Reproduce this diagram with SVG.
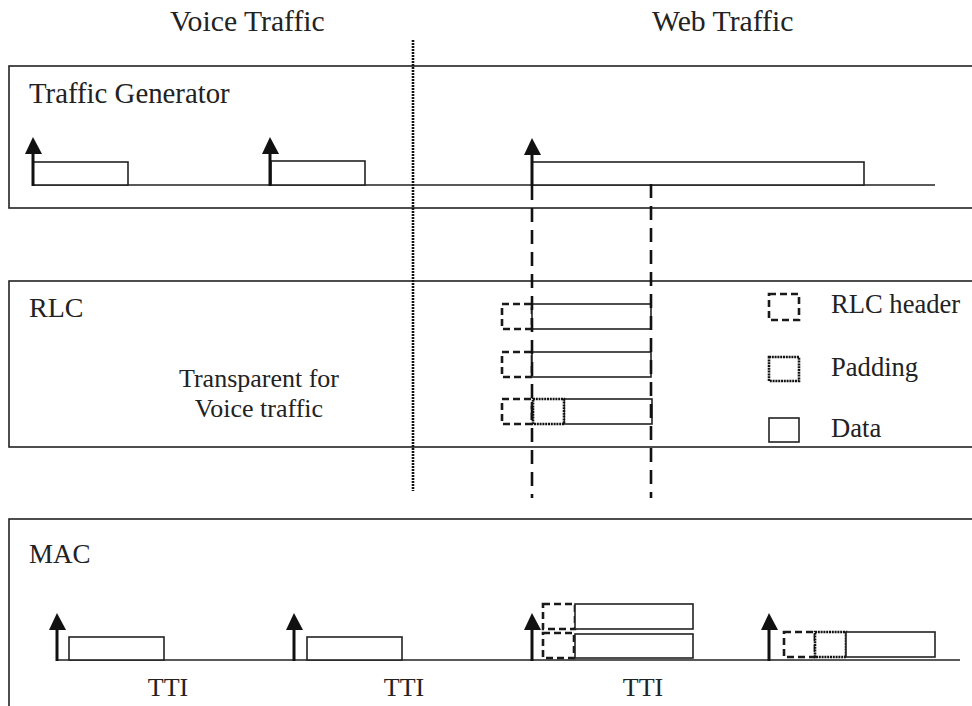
<svg xmlns="http://www.w3.org/2000/svg" width="972" height="706" viewBox="0 0 972 706">
<defs>
<style>
text{font-family:"Liberation Serif","Times New Roman",serif;font-size:26px;fill:#222}
.big{font-size:29.7px}
.mid{font-size:28.8px}
.box{fill:none;stroke:#222;stroke-width:1.6}
.data{fill:#fff;stroke:#222;stroke-width:1.6}
.hdr{fill:#fff;stroke:#1a1a1a;stroke-width:2.6;stroke-dasharray:7,4}
.pad{fill:#fff;stroke:#111;stroke-width:2.6;stroke-dasharray:2,0.8}
.base{stroke:#222;stroke-width:1.6;fill:none}
.shaft{stroke:#111;stroke-width:3;fill:none}
.dash{stroke:#111;stroke-width:2.6;stroke-dasharray:14,8;fill:none}
.dot{stroke:#111;stroke-width:2.6;stroke-dasharray:2,1}
</style>
</defs>
<g id="labels">
<text class="big" x="170" y="31">Voice Traffic</text>
<text class="big" x="652" y="31">Web Traffic</text>
</g>
<g id="traffic-generator">
<rect class="box" x="9" y="66" width="980" height="142"/>
<text class="mid" x="29" y="103">Traffic Generator</text>
<line class="base" x1="33" y1="185" x2="935" y2="185"/>
<rect class="data" x="33" y="162" width="95" height="23"/>
<rect class="data" x="271" y="161" width="94" height="24"/>
<rect class="data" x="532" y="162" width="332" height="23"/>
<path class="shaft" d="M33,186 V153"/>
<path d="M25,154 L33,137 L42,154 Z" fill="#111"/>
<path class="shaft" d="M270,186 V153"/>
<path d="M262,154 L270,137 L279,154 Z" fill="#111"/>
<path class="shaft" d="M532,186 V153"/>
<path d="M524,155 L532,138 L541,155 Z" fill="#111"/>
</g>
<g id="rlc">
<rect class="box" x="9" y="281" width="980" height="166"/>
<text x="29" y="317" style="font-size:28px">RLC</text>
<text x="259" y="387" text-anchor="middle">Transparent for</text>
<text x="259" y="417" text-anchor="middle">Voice traffic</text>
<rect class="hdr" x="502" y="304" width="30" height="25"/>
<rect class="data" x="532" y="304" width="119" height="25"/>
<rect class="hdr" x="502" y="352" width="30" height="25"/>
<rect class="data" x="532" y="352" width="119" height="25"/>
<rect class="hdr" x="502" y="399" width="30" height="25"/>
<rect class="data" x="564" y="399" width="88" height="25"/>
<rect class="pad" x="533" y="399" width="31" height="25"/>
</g>
<g id="legend">
<rect class="hdr" x="769" y="294" width="30" height="26"/>
<text x="831" y="313" style="font-size:26.6px">RLC header</text>
<rect class="pad" x="769" y="357" width="30" height="24"/>
<text x="831" y="376" style="font-size:26.6px">Padding</text>
<rect class="data" x="769" y="418" width="30" height="24"/>
<text x="831" y="437" style="font-size:26.6px">Data</text>
</g>
<g id="mac">
<rect class="box" x="9" y="519" width="980" height="220"/>
<text x="29" y="563" style="font-size:27px">MAC</text>
<line class="base" x1="57" y1="660" x2="960" y2="660"/>
<rect class="data" x="69" y="637" width="95" height="23"/>
<rect class="data" x="307" y="637" width="95" height="23"/>
<rect class="hdr" x="543" y="604" width="32" height="25"/>
<rect class="data" x="575" y="604" width="118" height="25"/>
<rect class="hdr" x="543" y="633" width="31" height="25"/>
<rect class="data" x="575" y="634" width="118" height="24"/>
<rect class="hdr" x="784" y="632" width="31" height="25"/>
<rect class="pad" x="815" y="632" width="31" height="25"/>
<rect class="data" x="846" y="632" width="89" height="25"/>
<path class="shaft" d="M57,661 V628"/>
<path d="M49,630 L57,613 L66,630 Z" fill="#111"/>
<path class="shaft" d="M294,661 V628"/>
<path d="M286,630 L294,613 L303,630 Z" fill="#111"/>
<path class="shaft" d="M532,661 V628"/>
<path d="M524,630 L532,613 L541,630 Z" fill="#111"/>
<path class="shaft" d="M769,661 V628"/>
<path d="M761,630 L769,613 L778,630 Z" fill="#111"/>
<text x="168" y="696" text-anchor="middle">TTI</text>
<text x="404" y="696" text-anchor="middle">TTI</text>
<text x="643" y="696" text-anchor="middle">TTI</text>
</g>
<g id="connectors">
<line class="dot" x1="413" y1="40" x2="413" y2="491"/>
<line class="dash" x1="532" y1="186" x2="532" y2="498"/>
<line class="dash" x1="651" y1="184" x2="651" y2="498"/>
</g>
</svg>
